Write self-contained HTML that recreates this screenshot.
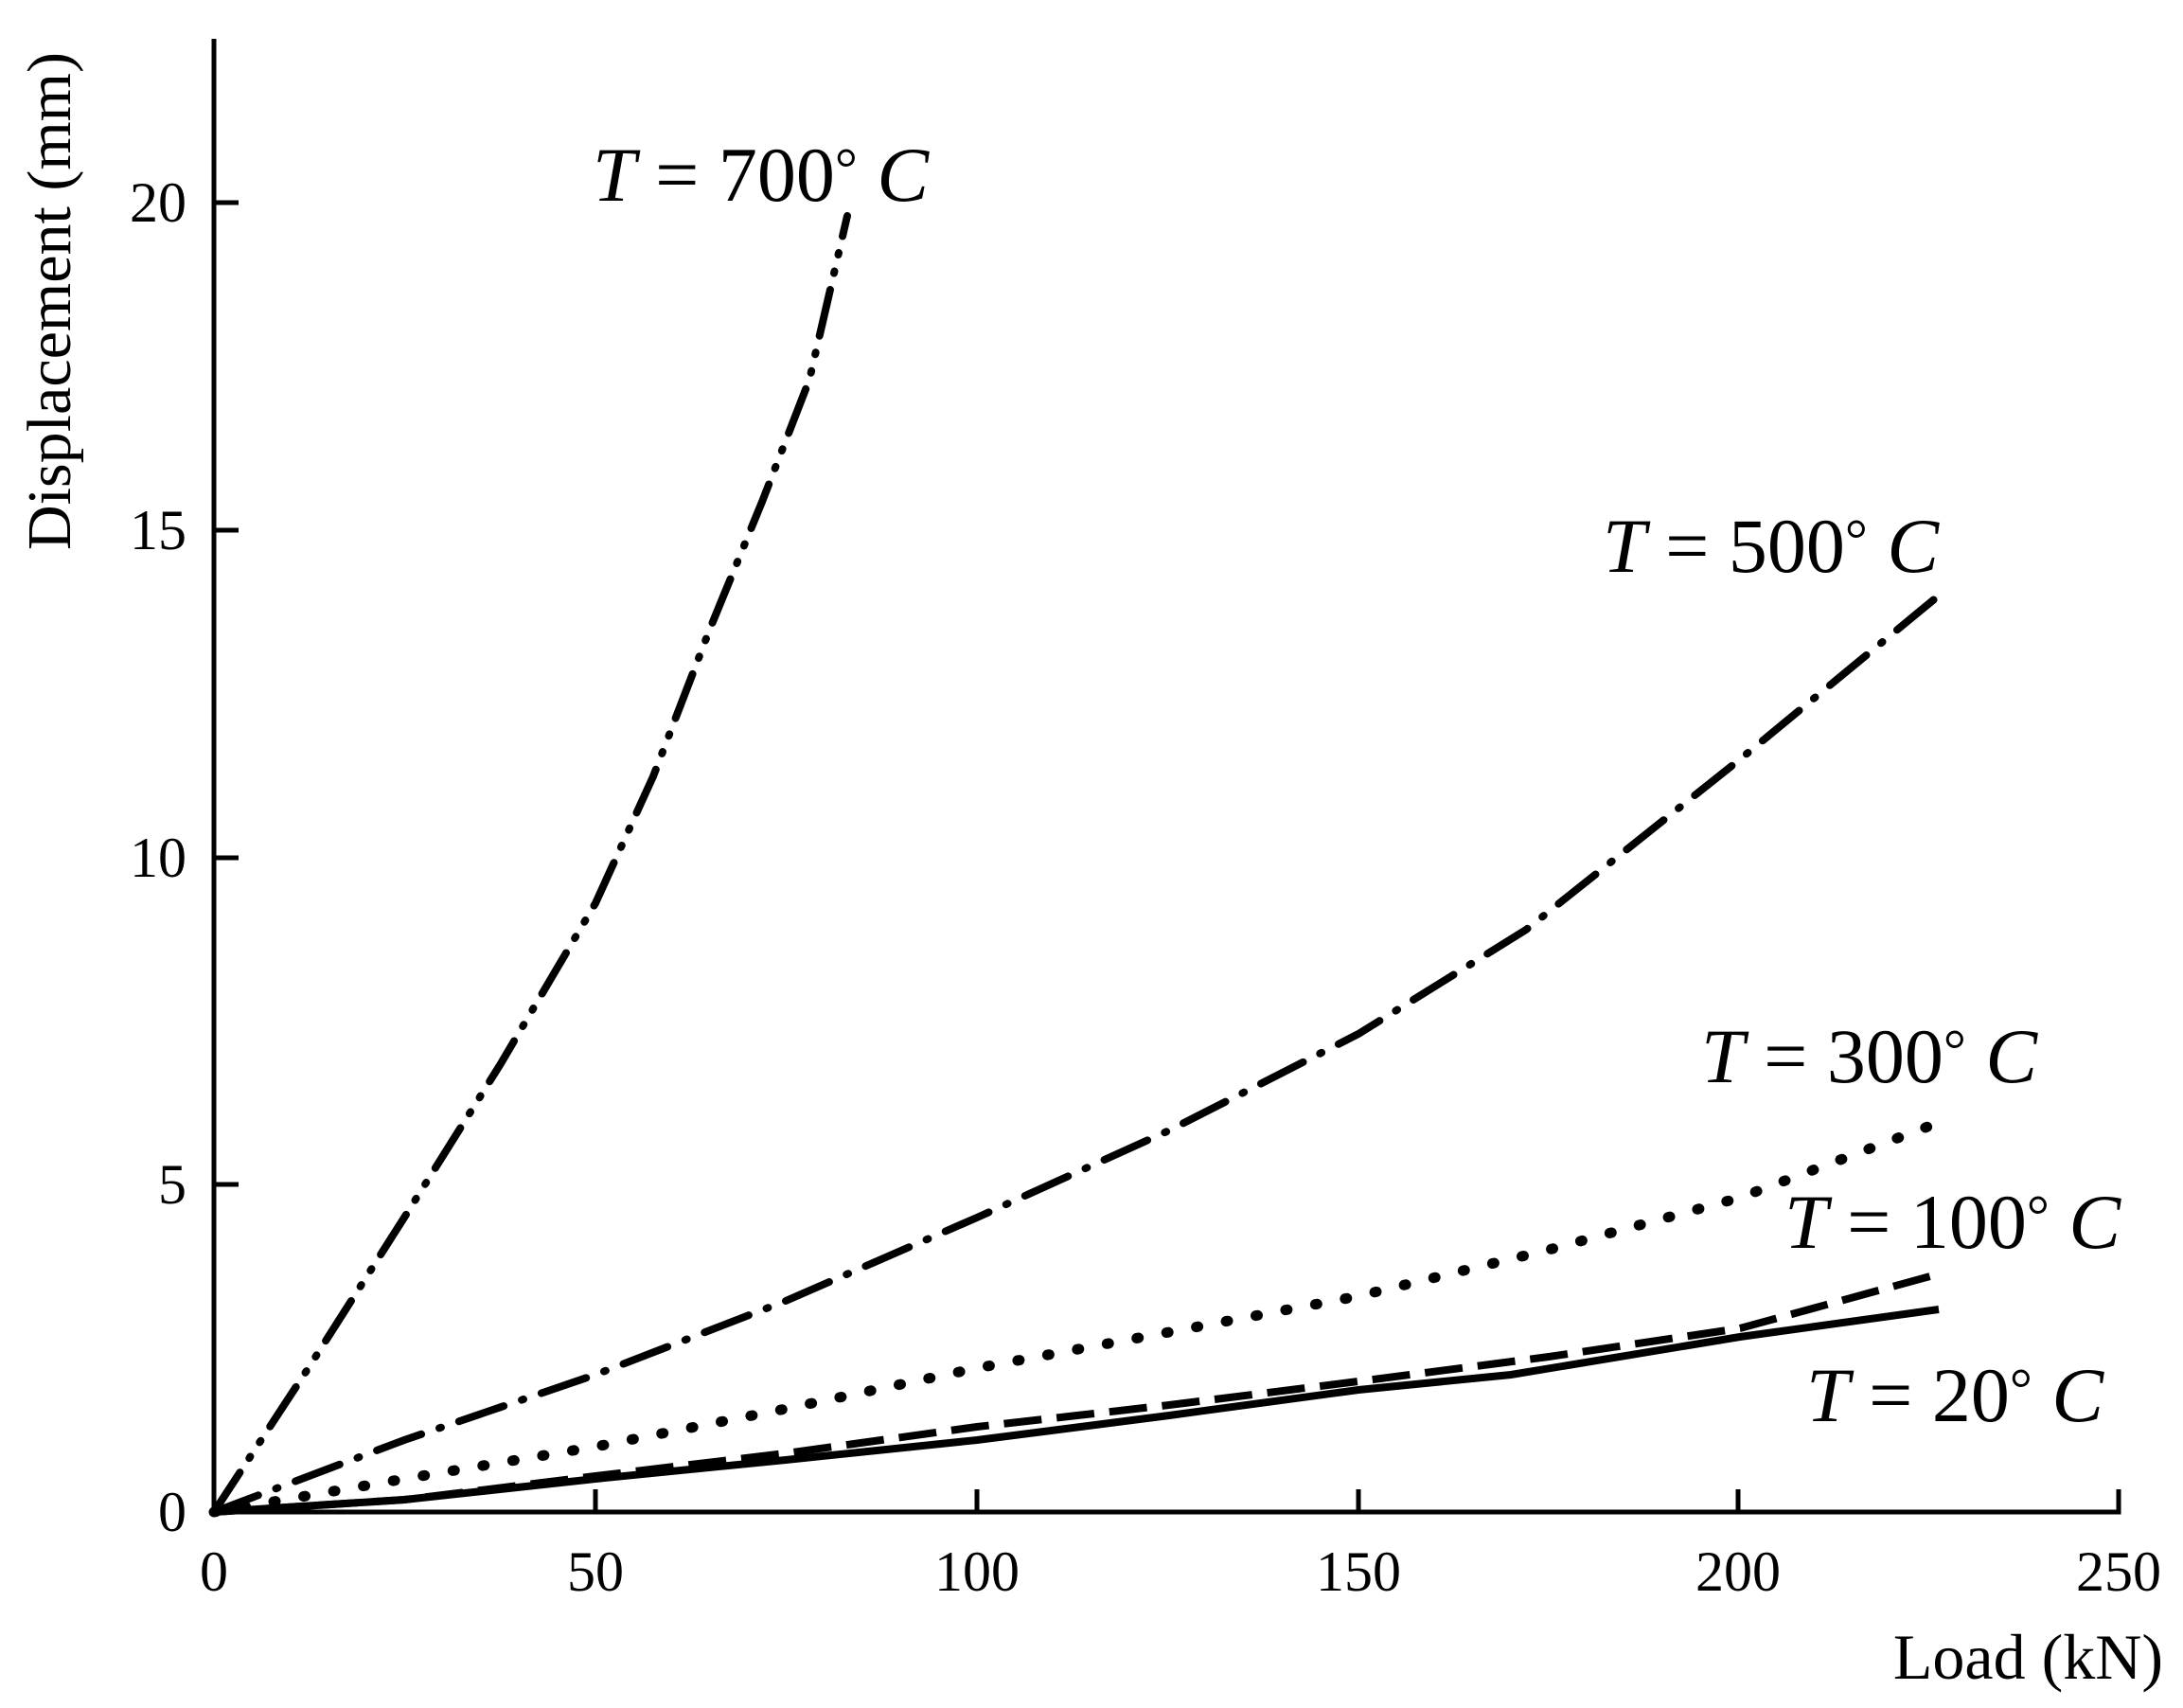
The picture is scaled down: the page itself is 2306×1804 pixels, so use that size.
<!DOCTYPE html>
<html><head><meta charset="utf-8"><style>
html,body{margin:0;padding:0;background:#fff;}
svg{display:block;}
text{font-family:"Liberation Serif",serif;fill:#000;}
</style></head><body>
<svg width="2306" height="1804" viewBox="0 0 2306 1804" xmlns="http://www.w3.org/2000/svg">
<g stroke="#000" stroke-width="5" fill="none">
<polyline points="226,41 226,1597 2238,1597 2238,1573"/>
<line x1="226" y1="1251" x2="252" y2="1251"/>
<line x1="226" y1="906" x2="252" y2="906"/>
<line x1="226" y1="560" x2="252" y2="560"/>
<line x1="226" y1="214" x2="252" y2="214"/>
<line x1="629" y1="1597" x2="629" y2="1573"/>
<line x1="1032" y1="1597" x2="1032" y2="1573"/>
<line x1="1435" y1="1597" x2="1435" y2="1573"/>
<line x1="1836" y1="1597" x2="1836" y2="1573"/>
</g>
<g font-size="60" text-anchor="end">
<text x="197" y="1617">0</text>
<text x="197" y="1271">5</text>
<text x="197" y="926">10</text>
<text x="197" y="580">15</text>
<text x="197" y="234">20</text>
</g>
<g font-size="60" text-anchor="middle">
<text x="226" y="1680">0</text>
<text x="629" y="1680">50</text>
<text x="1032" y="1680">100</text>
<text x="1435" y="1680">150</text>
<text x="1836" y="1680">200</text>
<text x="2238" y="1680">250</text>
</g>
<text x="2285" y="1773" font-size="68" text-anchor="end">Load (kN)</text>
<text transform="translate(74,318) rotate(-90)" font-size="66" text-anchor="middle">Displacement (mm)</text>
<g fill="none" stroke="#000" stroke-width="8">
<path d="M226,1597 L427,1584 L629,1562 L830,1542 L1032,1521 L1235,1495 L1435,1468 L1596,1452 L1838,1412 L2048,1383"/>
<path d="M226,1597 L427,1584 L629,1559 L830,1535 L1032,1507 L1235,1484 L1435,1459 L1636,1433 L1838,1403 L2039,1348" stroke-dasharray="40,16"/>
<path d="M226,1597 L427,1562 L629,1528 L830,1488 L1032,1445 L1235,1407 L1435,1369 L1636,1320 L1838,1265 L2039,1189" stroke-dasharray="2,30" stroke-linecap="round" stroke-width="11"/>
<path d="M226,1597 L427,1521 L629,1452 L830,1374 L1032,1286 L1235,1194 L1435,1092 L1612,982 L1838,802 L2048,629" stroke-dasharray="50,20,2,20" stroke-linecap="round"/>
<path d="M226,1597 L327,1443 L427,1286 L528,1125 L629,954 L690,820 L750,664 L805,530 L855,401 L895,228" stroke-dasharray="50,18,2,18,2,18" stroke-linecap="round"/>
</g>
<g font-size="82">
<text x="626" y="212"><tspan font-style="italic">T</tspan> = 700<tspan dy="-14" font-size="60">°</tspan><tspan dy="14" font-style="italic"> C</tspan></text>
<text x="1693" y="604"><tspan font-style="italic">T</tspan> = 500<tspan dy="-14" font-size="60">°</tspan><tspan dy="14" font-style="italic"> C</tspan></text>
<text x="1797" y="1143"><tspan font-style="italic">T</tspan> = 300<tspan dy="-14" font-size="60">°</tspan><tspan dy="14" font-style="italic"> C</tspan></text>
<text x="1885" y="1318"><tspan font-style="italic">T</tspan> = 100<tspan dy="-14" font-size="60">°</tspan><tspan dy="14" font-style="italic"> C</tspan></text>
<text x="1908" y="1501"><tspan font-style="italic">T</tspan> = 20<tspan dy="-14" font-size="60">°</tspan><tspan dy="14" font-style="italic"> C</tspan></text>
</g>
</svg>
</body></html>
